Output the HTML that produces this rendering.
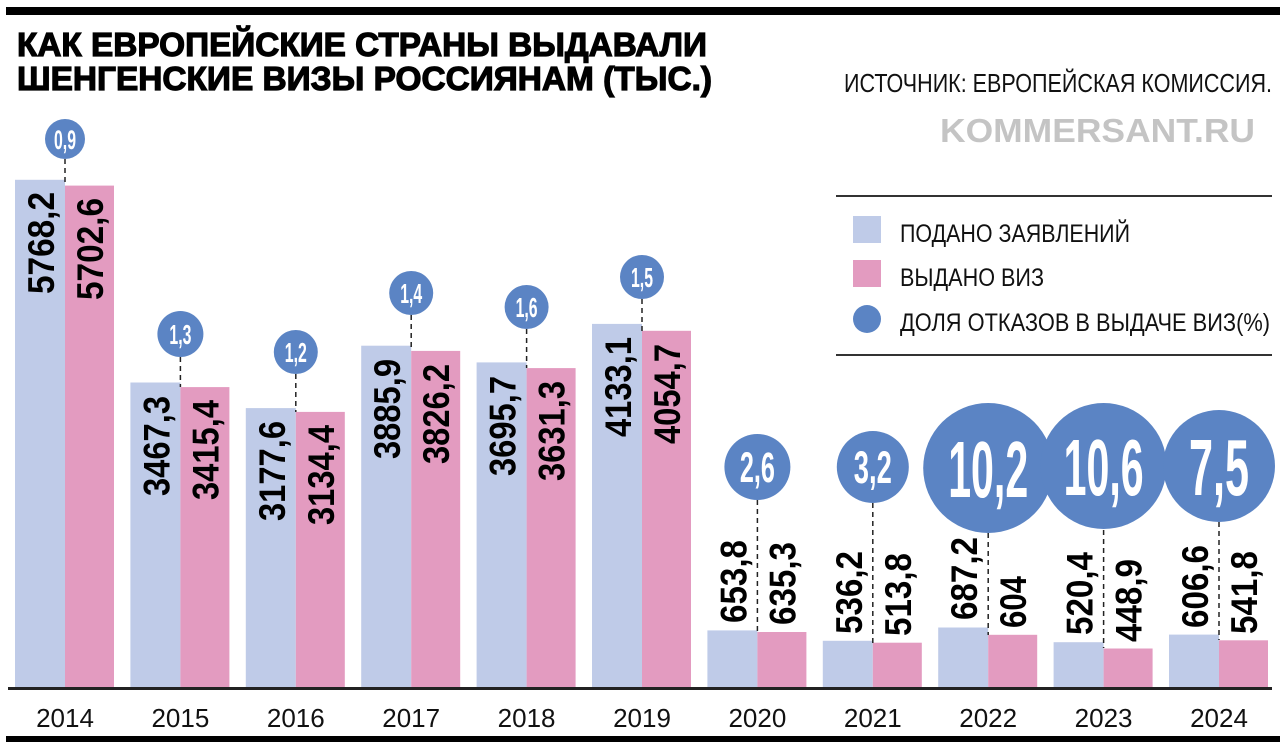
<!DOCTYPE html>
<html><head><meta charset="utf-8"><style>
html,body{margin:0;padding:0;background:#fff;}
svg{display:block;}
.t{font-family:"Liberation Sans","DejaVu Sans",sans-serif;font-weight:bold;}
.n{font-family:"Liberation Sans Narrow","Liberation Sans",sans-serif;}
.lb{font-family:"Liberation Sans Narrow","Liberation Sans",sans-serif;font-weight:bold;font-size:37px;fill:#000;}
.c{font-family:"Liberation Sans Narrow","Liberation Sans",sans-serif;font-weight:bold;fill:#fff;text-anchor:middle;}
.y{font-family:"Liberation Sans",sans-serif;font-size:26px;text-anchor:middle;fill:#111;}
</style></head><body>
<svg width="1280" height="752" viewBox="0 0 1280 752" xmlns="http://www.w3.org/2000/svg">
<rect x="6" y="7" width="1274" height="8" fill="#000"/>
<g stroke="#000" stroke-width="1.2">
<text class="t" x="17" y="56" font-size="33" textLength="690" lengthAdjust="spacingAndGlyphs">КАК ЕВРОПЕЙСКИЕ СТРАНЫ ВЫДАВАЛИ</text>
<text class="t" x="17" y="90" font-size="33" textLength="695" lengthAdjust="spacingAndGlyphs">ШЕНГЕНСКИЕ ВИЗЫ РОССИЯНАМ (ТЫС.)</text>
</g>
<text class="n" x="844" y="92" font-size="26" fill="#111" textLength="428" lengthAdjust="spacingAndGlyphs">ИСТОЧНИК: ЕВРОПЕЙСКАЯ КОМИССИЯ.</text>
<text class="t" x="940" y="142" font-size="33" fill="#c4c4c4" textLength="315" lengthAdjust="spacingAndGlyphs">KOMMERSANT.RU</text>
<rect x="836" y="195" width="436" height="2" fill="#333"/>
<rect x="836" y="354" width="436" height="2" fill="#333"/>
<rect x="853" y="216" width="28" height="27" fill="#bfcbe8"/>
<rect x="853" y="260" width="28" height="27" fill="#e39bc0"/>
<circle cx="867" cy="319" r="14" fill="#5b84c4"/>
<text class="n" x="900" y="242" font-size="25" fill="#111" textLength="230" lengthAdjust="spacingAndGlyphs">ПОДАНО ЗАЯВЛЕНИЙ</text>
<text class="n" x="900" y="286" font-size="25" fill="#111" textLength="144" lengthAdjust="spacingAndGlyphs">ВЫДАНО ВИЗ</text>
<text class="n" x="900" y="331" font-size="25" fill="#111" textLength="370" lengthAdjust="spacingAndGlyphs">ДОЛЯ ОТКАЗОВ В ВЫДАЧЕ ВИЗ(%)</text>

<g fill="#bfcbe8">
<rect x="15" y="179.8" width="50" height="508.2"/>
<rect x="130.4" y="382.5" width="50" height="305.5"/>
<rect x="245.8" y="408.1" width="50" height="279.9"/>
<rect x="361.2" y="345.7" width="50" height="342.3"/>
<rect x="476.6" y="362.4" width="50" height="325.6"/>
<rect x="592" y="323.9" width="50" height="364.1"/>
<rect x="707.4" y="630.4" width="50" height="57.6"/>
<rect x="822.8" y="640.8" width="50" height="47.2"/>
<rect x="938.2" y="627.5" width="50" height="60.5"/>
<rect x="1053.6" y="642.2" width="50" height="45.8"/>
<rect x="1169" y="634.6" width="50" height="53.4"/>
</g>
<g fill="#e39bc0">
<rect x="65" y="185.6" width="49" height="502.4"/>
<rect x="180.4" y="387.1" width="49" height="300.9"/>
<rect x="295.8" y="411.9" width="49" height="276.1"/>
<rect x="411.2" y="350.9" width="49" height="337.1"/>
<rect x="526.6" y="368.1" width="49" height="319.9"/>
<rect x="642" y="330.8" width="49" height="357.2"/>
<rect x="757.4" y="632" width="49" height="56"/>
<rect x="872.8" y="642.7" width="49" height="45.3"/>
<rect x="988.2" y="634.8" width="49" height="53.2"/>
<rect x="1103.6" y="648.5" width="49" height="39.5"/>
<rect x="1219" y="640.3" width="49" height="47.7"/>
</g>
<rect x="8" y="687" width="1264" height="3" fill="#222"/>
<rect x="6" y="736" width="1274" height="6" fill="#000"/>

<g stroke="#222" stroke-width="1.5" stroke-dasharray="5,4">
<line x1="65" y1="159" x2="65" y2="186"/>
<line x1="180.4" y1="357" x2="180.4" y2="387"/>
<line x1="295.8" y1="374" x2="295.8" y2="412"/>
<line x1="411.2" y1="315" x2="411.2" y2="351"/>
<line x1="526.6" y1="329" x2="526.6" y2="368"/>
<line x1="642" y1="299" x2="642" y2="331"/>
<line x1="757.4" y1="500" x2="757.4" y2="632"/>
<line x1="872.8" y1="503" x2="872.8" y2="643"/>
<line x1="988.2" y1="533" x2="988.2" y2="635"/>
<line x1="1103.6" y1="530" x2="1103.6" y2="648"/>
<line x1="1219" y1="522" x2="1219" y2="640"/>
</g>
<g fill="#5b84c4">
<circle cx="65" cy="139" r="20"/>
<circle cx="180.4" cy="334" r="23"/>
<circle cx="295.8" cy="352" r="22"/>
<circle cx="411.2" cy="293" r="22"/>
<circle cx="526.6" cy="307" r="22"/>
<circle cx="642" cy="277" r="22"/>
<circle cx="757.4" cy="467" r="33"/>
<circle cx="872.8" cy="467" r="36"/>
<circle cx="988.2" cy="468" r="65"/>
<circle cx="1103.6" cy="466" r="63"/>
<circle cx="1219" cy="466" r="56"/>
</g>
<text class="c" x="65" y="149" font-size="27" textLength="22" lengthAdjust="spacingAndGlyphs">0,9</text>
<text class="c" x="180.4" y="344" font-size="28" textLength="22" lengthAdjust="spacingAndGlyphs">1,3</text>
<text class="c" x="295.8" y="362" font-size="28" textLength="22" lengthAdjust="spacingAndGlyphs">1,2</text>
<text class="c" x="411.2" y="303" font-size="28" textLength="22" lengthAdjust="spacingAndGlyphs">1,4</text>
<text class="c" x="526.6" y="317" font-size="28" textLength="22" lengthAdjust="spacingAndGlyphs">1,6</text>
<text class="c" x="642" y="287" font-size="28" textLength="22" lengthAdjust="spacingAndGlyphs">1,5</text>
<text class="c" x="757.4" y="482" font-size="43" textLength="35" lengthAdjust="spacingAndGlyphs">2,6</text>
<text class="c" x="872.8" y="483" font-size="45" textLength="38" lengthAdjust="spacingAndGlyphs">3,2</text>
<text class="c" x="988.2" y="497" font-size="80" textLength="80" lengthAdjust="spacingAndGlyphs">10,2</text>
<text class="c" x="1103.6" y="495" font-size="80" textLength="80" lengthAdjust="spacingAndGlyphs">10,6</text>
<text class="c" x="1219" y="495" font-size="80" textLength="60" lengthAdjust="spacingAndGlyphs">7,5</text>

<g class="lb" text-anchor="end">
<text transform="translate(54,192) rotate(-90)" textLength="102" lengthAdjust="spacingAndGlyphs">5768,2</text>
<text transform="translate(103,198) rotate(-90)" textLength="102" lengthAdjust="spacingAndGlyphs">5702,6</text>
<text transform="translate(169.4,396) rotate(-90)" textLength="100" lengthAdjust="spacingAndGlyphs">3467,3</text>
<text transform="translate(218.4,400) rotate(-90)" textLength="100" lengthAdjust="spacingAndGlyphs">3415,4</text>
<text transform="translate(284.8,421) rotate(-90)" textLength="100" lengthAdjust="spacingAndGlyphs">3177,6</text>
<text transform="translate(333.8,425) rotate(-90)" textLength="100" lengthAdjust="spacingAndGlyphs">3134,4</text>
<text transform="translate(400.2,359) rotate(-90)" textLength="100" lengthAdjust="spacingAndGlyphs">3885,9</text>
<text transform="translate(449.2,364) rotate(-90)" textLength="100" lengthAdjust="spacingAndGlyphs">3826,2</text>
<text transform="translate(515.6,376) rotate(-90)" textLength="100" lengthAdjust="spacingAndGlyphs">3695,7</text>
<text transform="translate(564.6,381) rotate(-90)" textLength="100" lengthAdjust="spacingAndGlyphs">3631,3</text>
<text transform="translate(631,337) rotate(-90)" textLength="100" lengthAdjust="spacingAndGlyphs">4133,1</text>
<text transform="translate(680,344) rotate(-90)" textLength="100" lengthAdjust="spacingAndGlyphs">4054,7</text>
</g>
<g class="lb" text-anchor="start">
<text transform="translate(746.4,623) rotate(-90)" textLength="83" lengthAdjust="spacingAndGlyphs">653,8</text>
<text transform="translate(795.4,625) rotate(-90)" textLength="83" lengthAdjust="spacingAndGlyphs">635,3</text>
<text transform="translate(861.8,634) rotate(-90)" textLength="83" lengthAdjust="spacingAndGlyphs">536,2</text>
<text transform="translate(910.8,636) rotate(-90)" textLength="83" lengthAdjust="spacingAndGlyphs">513,8</text>
<text transform="translate(977.2,620) rotate(-90)" textLength="83" lengthAdjust="spacingAndGlyphs">687,2</text>
<text transform="translate(1026.2,628) rotate(-90)" textLength="52" lengthAdjust="spacingAndGlyphs">604</text>
<text transform="translate(1092.6,635) rotate(-90)" textLength="83" lengthAdjust="spacingAndGlyphs">520,4</text>
<text transform="translate(1141.6,642) rotate(-90)" textLength="83" lengthAdjust="spacingAndGlyphs">448,9</text>
<text transform="translate(1208,628) rotate(-90)" textLength="83" lengthAdjust="spacingAndGlyphs">606,6</text>
<text transform="translate(1257,634) rotate(-90)" textLength="83" lengthAdjust="spacingAndGlyphs">541,8</text>
</g>

<text class="y" x="65" y="727">2014</text>
<text class="y" x="180.4" y="727">2015</text>
<text class="y" x="295.8" y="727">2016</text>
<text class="y" x="411.2" y="727">2017</text>
<text class="y" x="526.6" y="727">2018</text>
<text class="y" x="642" y="727">2019</text>
<text class="y" x="757.4" y="727">2020</text>
<text class="y" x="872.8" y="727">2021</text>
<text class="y" x="988.2" y="727">2022</text>
<text class="y" x="1103.6" y="727">2023</text>
<text class="y" x="1219" y="727">2024</text>
</svg>
</body></html>
